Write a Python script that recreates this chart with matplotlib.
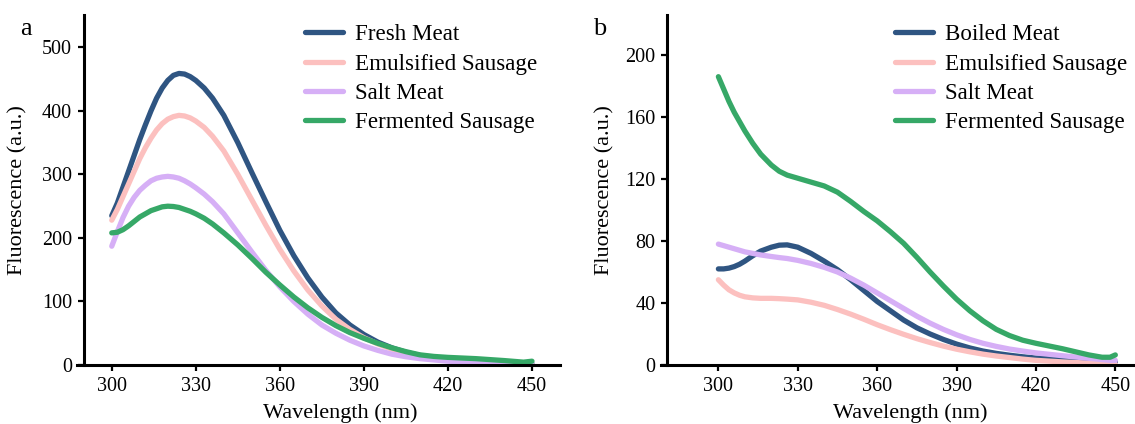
import matplotlib
matplotlib.use("Agg")
import matplotlib.pyplot as plt

# ---------------- data ----------------
wl_a = [300, 302, 304, 306, 308, 310, 312, 314, 316, 318, 320, 322, 324, 326, 328, 330, 333, 336,
        340, 345, 350, 355, 360, 365, 370, 375, 380, 385, 390, 395, 400, 405, 410, 415, 420, 430,
        440, 447, 450]
fresh_meat = [235, 255, 280, 305, 330, 355, 378, 400, 420, 436, 448, 456, 459, 458, 454, 448, 436, 420,
              393, 350, 303, 257, 212, 172, 137, 107, 82, 63, 48, 36, 27, 20, 15, 12, 10, 7,
              4, 2.5, 2]
emulsified_a = [228, 245, 265, 285, 305, 325, 342, 357, 370, 380, 387, 391, 393, 392, 389, 384, 374, 360,
                337, 300, 260, 220, 182, 148, 118, 93, 72, 56, 43, 33, 25, 19, 14, 11, 9, 6,
                3, 1.5, 1]
salt_a = [187, 210, 232, 250, 264, 275, 283, 290, 294, 296, 297, 296, 294, 290, 285, 279, 269, 257,
          238, 208, 178, 149, 123, 100, 80, 63, 50, 39, 30, 23, 17, 13, 10, 8, 6, 4,
          2, 1, 1]
fermented_a = [208, 209, 213, 219, 226, 233, 238, 243, 246, 249, 250, 249.5, 248, 245, 242, 238, 231, 222,
               208, 189, 168, 146, 126, 107, 90, 75, 62, 51, 42, 34, 27, 21, 16, 13.5, 12, 10,
               7, 4.5, 6]

wl_b = [300, 302, 304, 306, 308, 310, 313, 316, 320, 323, 326, 330, 335, 340, 345, 350, 355, 360,
        365, 370, 375, 380, 385, 390, 395, 400, 405, 410, 415, 420, 430, 440, 445, 448, 450]
boiled_meat = [62, 62, 62.5, 63.5, 65, 67, 70.5, 73.5, 76, 77.3, 77.5, 76, 72, 67, 61.5, 55, 48, 41,
               35, 29, 24, 20, 16.5, 13.5, 11, 9, 7.5, 6.3, 5.3, 4.5, 3.5, 2.5, 2.2, 2, 2]
emulsified_b = [55, 51.5, 48.5, 46.5, 45, 44, 43.3, 43, 43, 42.8, 42.5, 42, 40.5, 38.5, 35.8, 32.8, 29.5, 26,
                22.8, 19.8, 17, 14.5, 12.2, 10.2, 8.5, 7, 5.8, 4.8, 3.8, 3, 2, 1.2, 0.9, 0.7, 0.5]
salt_b = [78, 77, 76, 75, 74, 73, 72, 71, 70, 69.3, 68.7, 67.5, 65.5, 63, 60, 56, 51.5, 46.5,
          41.5, 36.5, 31.5, 27, 23, 19.5, 16.5, 14, 12, 10.3, 9, 7.8, 6, 4.3, 3.5, 3, 3]
fermented_b = [186, 178, 170, 163, 157, 151, 143, 136, 129, 125, 122.5, 120.5, 118, 115.5, 111.5, 105.5, 99, 93,
               86, 78.5, 69.5, 60, 51, 42.5, 35, 28.5, 23, 19, 16, 14, 10.5, 6.5, 5, 5, 6.5]

labels_a = ["Fresh Meat", "Emulsified Sausage", "Salt Meat", "Fermented Sausage"]
labels_b = ["Boiled Meat", "Emulsified Sausage", "Salt Meat", "Fermented Sausage"]
xticks = [300, 330, 360, 390, 420, 450]
yticks_a = [0, 100, 200, 300, 400, 500]
yticks_b = [0, 40, 80, 120, 160, 200]

colors = ["#2F5582", "#FCC0BF", "#D6AFF6", "#36A867"]

# ---------------- style ----------------
plt.rcParams['font.family'] = ['Liberation Serif', 'DejaVu Serif']

W, H = 1135, 424
fig = plt.figure(figsize=(W / 100, H / 100), dpi=100)


def px_axes(x0, x1, y_top, y_bot):
    return fig.add_axes([x0 / W, 1 - y_bot / H, (x1 - x0) / W, (y_bot - y_top) / H])


ax_a = px_axes(77.3, 560, 15, 365)
ax_b = px_axes(660.7, 1136.5, 15, 365)


def style(ax, xlim, ylim, spine_x, yticks, ylab_x, xlab_x):
    ax.set_xlim(*xlim)
    ax.set_ylim(*ylim)
    ax.spines['top'].set_visible(False)
    ax.spines['right'].set_visible(False)
    ax.spines['left'].set_position(('data', spine_x))
    for s in ('left', 'bottom'):
        ax.spines[s].set_linewidth(2.2)
    ax.set_xticks(xticks)
    ax.set_yticks(yticks)
    ax.tick_params(direction='out', length=4.3, width=1.6, labelsize=14.5, pad=4)
    ax.set_xlabel("Wavelength (nm)", fontsize=16)
    ax.set_ylabel("Fluorescence (a.u.)", fontsize=16)
    ax.yaxis.set_label_coords(ylab_x, 0.5)
    ax.xaxis.set_label_coords(xlab_x, -0.11)


series_a = [fresh_meat, emulsified_a, salt_a, fermented_a]
series_b = [boiled_meat, emulsified_b, salt_b, fermented_b]

for vals, lab, c in zip(series_a, labels_a, colors):
    ax_a.plot(wl_a, vals, color=c, lw=3.8, label=lab, solid_capstyle='round', solid_joinstyle='round')
for vals, lab, c in zip(series_b, labels_b, colors):
    ax_b.plot(wl_b, vals, color=c, lw=3.8, label=lab, solid_capstyle='round', solid_joinstyle='round')

style(ax_a, (287.7, 460), (0, 551), 290, yticks_a, -0.104, 0.544)
style(ax_b, (278.2, 458), (0, 225.8), 280.5, yticks_b, -0.098, 0.524)

leg_kw = dict(frameon=False, fontsize=16.6, handlelength=1.65, handletextpad=0.52,
              labelspacing=0.36, borderpad=0, borderaxespad=0, loc='upper left')
ax_a.legend(bbox_to_anchor=(305 / W, 1 - 24 / H), bbox_transform=fig.transFigure, **leg_kw)
ax_b.legend(bbox_to_anchor=(895 / W, 1 - 24 / H), bbox_transform=fig.transFigure, **leg_kw)

fig.text(20 / W, 1 - 35 / H, "a", fontsize=19, va='baseline', ha='left')
fig.text(593 / W, 1 - 35 / H, "b", fontsize=19, va='baseline', ha='left')

fig.savefig("out.png", dpi=100)
